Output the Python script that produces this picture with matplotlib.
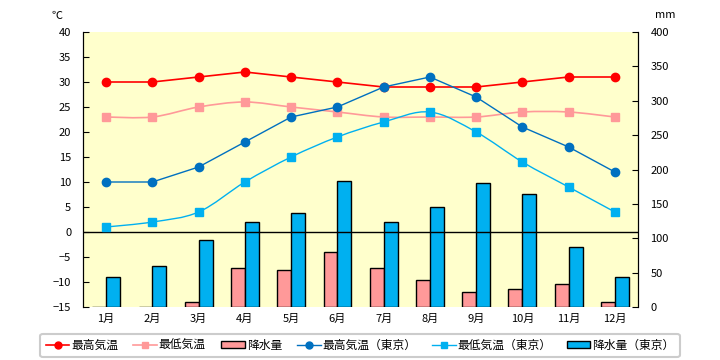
import matplotlib
matplotlib.use("Agg")
import matplotlib.pyplot as plt
from matplotlib.path import Path
from matplotlib.patches import PathPatch, Patch
from matplotlib.lines import Line2D
import numpy as np

plt.rcParams['font.family'] = ['Noto Sans CJK JP', 'DejaVu Sans']

months = ["1月", "2月", "3月", "4月", "5月", "6月", "7月", "8月", "9月", "10月", "11月", "12月"]
max_temp = [30, 30, 31, 32, 31, 30, 29, 29, 29, 30, 31, 31]
min_temp = [23, 23, 25, 26, 25, 24, 23, 23, 23, 24, 24, 23]
precip = [0, 0, 8, 57, 54, 80, 57, 39, 22, 26, 34, 8]
tokyo_max = [10, 10, 13, 18, 23, 25, 29, 31, 27, 21, 17, 12]
tokyo_min = [1, 2, 4, 10, 15, 19, 22, 24, 20, 14, 9, 4]
tokyo_precip = [44, 59, 98, 124, 137, 183, 124, 146, 180, 164, 88, 44]
temp_ticks = list(range(-15, 45, 5))
mm_ticks = list(range(0, 450, 50))

RED = "#FF0000"
PINK = "#FF9999"
DBLUE = "#0070C0"
LBLUE = "#00B0F0"

fig = plt.figure(figsize=(7.2, 3.6), dpi=100)
ax = fig.add_axes([83/720, 1-307/360, (638-83)/720, (307-32)/360])
ax.set_facecolor("#FFFFCC")
ax2 = ax.twinx()
ax2.patch.set_visible(False)

x = np.arange(len(months))
w = 0.3
ax.bar(x - w/2, precip, width=w, color=PINK, edgecolor="black", linewidth=1, zorder=2)
ax.bar(x + w/2, tokyo_precip, width=w, color=LBLUE, edgecolor="black", linewidth=1, zorder=2)
ax.set_ylim(0, 400)
ax.set_xlim(-0.5, 11.5)
ax.yaxis.tick_right()
ax.set_yticks(mm_ticks)
ax.set_xticks(x)
ax.set_xticklabels(months)

ax2.set_ylim(-15, 40)
ax2.yaxis.tick_left()
ax2.set_yticks(temp_ticks)

for a in (ax, ax2):
    a.spines['top'].set_visible(False)
    a.spines['bottom'].set_visible(False)
    a.spines['left'].set_color('black')
    a.spines['right'].set_color('black')
ax.tick_params(axis='y', direction='in', length=4, pad=9, labelsize=8)
ax2.tick_params(axis='y', direction='in', length=4, pad=8.5, labelsize=8)
ax.tick_params(axis='x', length=0, pad=5, labelsize=8)

ax2.axhline(0, color='black', linewidth=1, zorder=3)


def smooth(axis, xs, ys, color, lw):
    pts = np.column_stack([xs, ys]).astype(float)
    n = len(pts)
    verts = [pts[0]]
    codes = [Path.MOVETO]
    for i in range(n - 1):
        p0 = pts[max(i - 1, 0)]
        p1 = pts[i]
        p2 = pts[i + 1]
        p3 = pts[min(i + 2, n - 1)]
        c1 = p1 + (p2 - p0) / 6
        c2 = p2 - (p3 - p1) / 6
        verts += [c1, c2, p2]
        codes += [Path.CURVE4] * 3
    axis.add_patch(PathPatch(Path(verts, codes), facecolor='none', edgecolor=color, linewidth=lw, zorder=4))


ax2.plot(x, max_temp, color=RED, linewidth=1.2, marker='o', markersize=6, zorder=5)
smooth(ax2, x, min_temp, PINK, 1.2)
ax2.plot(x, min_temp, linestyle='none', color=PINK, marker='s', markersize=5.8, zorder=5)
ax2.plot(x, tokyo_max, color=DBLUE, linewidth=1, marker='o', markersize=6, zorder=5)
smooth(ax2, x, tokyo_min, LBLUE, 1)
ax2.plot(x, tokyo_min, linestyle='none', color=LBLUE, marker='s', markersize=5.8, zorder=5)

fig.text(57/720, 1-16/360, "℃", fontsize=8, ha='center', va='center')
fig.text(665/720, 1-15/360, "mm", fontsize=8, ha='center', va='center')

handles = [
    Line2D([], [], color=RED, linewidth=1.2, marker='o', markersize=5),
    Line2D([], [], color=PINK, linewidth=1.2, marker='s', markersize=5),
    Patch(facecolor=PINK, edgecolor='black', linewidth=1),
    Line2D([], [], color=DBLUE, linewidth=1, marker='o', markersize=5),
    Line2D([], [], color=LBLUE, linewidth=1, marker='s', markersize=5),
    Patch(facecolor=LBLUE, edgecolor='black', linewidth=1),
]
labels = ["最高気温", "最低気温", "降水量", "最高気温（東京）", "最低気温（東京）", "降水量（東京）"]
leg = fig.legend(handles, labels, loc='center', bbox_to_anchor=(360/720, 1-345.5/360), ncol=6,
                 fontsize=8.5, frameon=True, fancybox=True, edgecolor='#C0C0C0',
                 handlelength=2.0, handleheight=0.5, handletextpad=0.15, columnspacing=1.3,
                 borderpad=0.45)
leg.get_frame().set_linewidth(1.5)

fig.savefig("out.png", dpi=100)
